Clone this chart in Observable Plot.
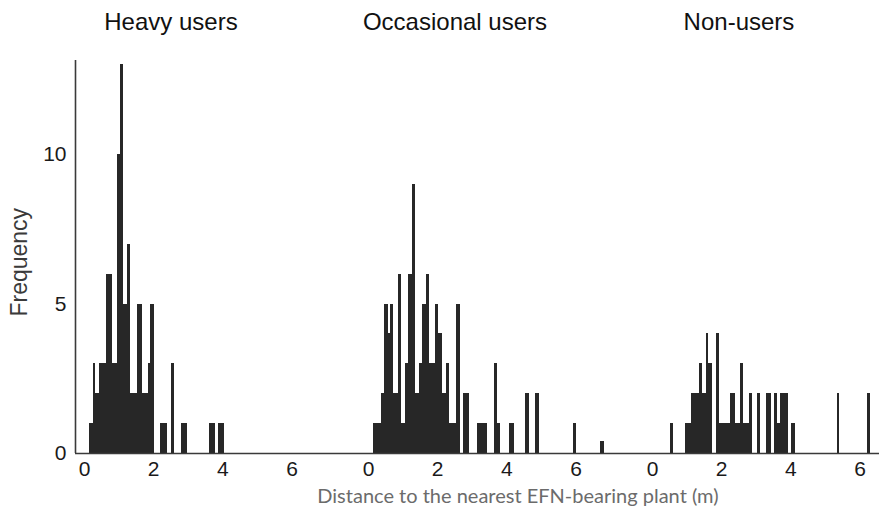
<!DOCTYPE html>
<html>
<head>
<meta charset="utf-8">
<script src="https://cdn.jsdelivr.net/npm/d3@7"></script>
<script src="https://cdn.jsdelivr.net/npm/@observablehq/plot@0.6"></script>
<style>
html, body { margin: 0; padding: 0; background: #fff; overflow: hidden; width: 879px; height: 515px; }
#chart svg { max-width: none !important; display: block; }
</style>
</head>
<body>
<div id="chart"></div>
<script>
// Panels (facets)
const groups = ["Heavy users", "Occasional users", "Non-users"];

// Histogram bin edges (m) and frequencies
const heavyEdges = [0.15, 0.27, 0.32, 0.43, 0.64, 0.81, 0.95, 1.05, 1.12, 1.23, 1.32, 1.53, 1.69, 1.84, 1.91, 2.01, 2.19, 2.40, 2.51, 2.59, 2.79, 2.97, 3.60, 3.80, 3.87, 4.04];
const heavyCounts = [1, 3, 2, 3, 6, 3, 10, 13, 5, 7, 2, 5, 2, 3, 5, 0, 1, 0, 3, 0, 1, 0, 1, 0, 1];

const occasionalEdges = [0.14, 0.38, 0.47, 0.57, 0.64, 0.72, 0.86, 0.96, 1.06, 1.15, 1.28, 1.35, 1.47, 1.57, 1.67, 1.77, 1.95, 2.03, 2.14, 2.26, 2.33, 2.55, 2.65, 2.75, 2.91, 3.15, 3.43, 3.63, 3.73, 3.81, 4.07, 4.22, 4.53, 4.64, 4.83, 4.95, 5.92, 6.02, 6.70, 6.82];
const occasionalCounts = [1, 2, 5, 4, 5, 2, 6, 1, 3, 6, 9, 2, 3, 5, 6, 3, 5, 4, 2, 3, 1, 5, 0, 2, 0, 1, 0, 3, 1, 0, 1, 0, 2, 0, 2, 0, 1, 0, 0.4];

const nonEdges = [0.52, 0.62, 0.95, 1.13, 1.36, 1.44, 1.55, 1.61, 1.74, 1.84, 1.93, 2.25, 2.41, 2.55, 2.63, 2.80, 2.90, 3.04, 3.12, 3.30, 3.43, 3.53, 3.61, 3.70, 3.92, 4.02, 4.13, 5.34, 5.41, 6.21, 6.30];
const nonCounts = [1, 0, 1, 2, 3, 2, 4, 3, 0, 4, 1, 2, 1, 3, 1, 2, 0, 2, 0, 2, 0, 2, 1, 2, 0, 1, 0, 2, 0, 2];

// Axis ticks and labels
const xTicks = [0, 2, 4, 6];
const yTicks = [0, 5, 10];
const xLabel = "Distance to the nearest EFN-bearing plant (m)";
const yLabel = "Frequency";
const xDomain = [-0.26, 7.95];
const yDomain = [0, 13.15];

const rows = [];
function addGroup(group, edges, counts) {
  counts.forEach((c, i) => {
    if (c > 0) rows.push({group, x1: edges[i], x2: edges[i + 1], count: c});
  });
}
addGroup(groups[0], heavyEdges, heavyCounts);
addGroup(groups[1], occasionalEdges, occasionalCounts);
addGroup(groups[2], nonEdges, nonCounts);

const axisColor = "#3a3a3a";

const chart = Plot.plot({
  width: 927,
  height: 515,
  marginLeft: 75,
  marginRight: 0,
  marginTop: 60,
  marginBottom: 62,
  style: {fontFamily: "'Liberation Sans', Arial, sans-serif", background: "#fff", color: "#1a1a1a"},
  fx: {domain: groups, padding: 0, axis: null},
  x: {domain: xDomain},
  y: {domain: yDomain},
  marks: [
    Plot.rectY(rows, {x1: "x1", x2: "x2", y: "count", fx: "group", fill: "#272727", inset: 0, shapeRendering: "crispEdges"}),
    Plot.ruleY([0], {stroke: axisColor, strokeWidth: 1.6}),
    Plot.ruleX([xDomain[0]], {fx: () => groups[0], stroke: axisColor, strokeWidth: 1.6}),
    Plot.axisY({ticks: yTicks, tickSize: 0, tickPadding: 9, fontSize: 21, label: null, fill: "#1a1a1a"}),
    Plot.axisX({ticks: xTicks, tickSize: 0, tickPadding: 8, fontSize: 21, label: null, fill: "#1a1a1a"}),
    Plot.text([yLabel], {fx: () => groups[0], y: () => 6.4, frameAnchor: "left", dx: -56, rotate: -90, textAnchor: "middle", lineAnchor: "middle", fontSize: 23, fill: "#3a3a3a"}),
    Plot.text(groups, {fx: d => d, x: () => 2.5, text: d => d, frameAnchor: "top", lineAnchor: "middle", dy: -38, fontSize: 24, fill: "#111"}),
    Plot.text([xLabel], {fx: () => groups[1], x: () => 4.32, frameAnchor: "bottom", lineAnchor: "middle", dy: 43, fontSize: 20, fontFamily: "Lato, 'Open Sans', sans-serif", fill: "#6b6b6b"})
  ]
});
document.getElementById("chart").appendChild(chart);
</script>
</body>
</html>
